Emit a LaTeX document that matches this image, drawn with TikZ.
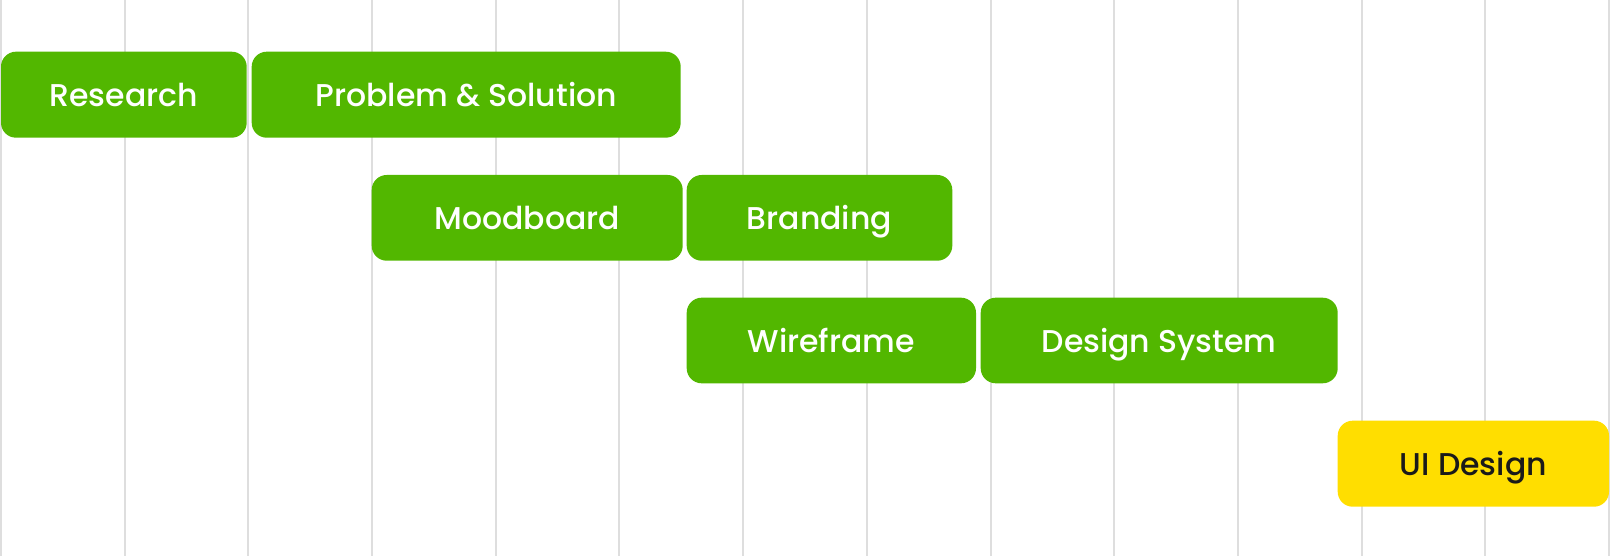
\documentclass[tikz,border=0pt]{standalone}
\usepackage{fontspec}
\setmainfont{Poppins}[UprightFont=* Medium]
\definecolor{tgreen}{HTML}{52B700}
\definecolor{tyellow}{HTML}{FFDE00}
\definecolor{tgrid}{HTML}{DEDEDE}
\definecolor{tdark}{HTML}{1A1A1A}
\begin{document}
\begin{tikzpicture}[x=1pt,y=-1pt,
  task/.style={draw=none,fill=tgreen,text=white,rounded corners=15pt,inner sep=0pt},
  hl/.style={task,fill=tyellow,text=tdark},
  label/.style={inner sep=0pt,anchor=base,yshift=-12pt,font=\fontsize{31.5}{36}\selectfont},
  gridline/.style={draw=tgrid,line width=2pt}]
\useasboundingbox (0,0) rectangle (1610,556);
\foreach \k in {0,...,13}{
  \draw[gridline] ({1+123.69*\k},0) -- ({1+123.69*\k},556);
}
\newcommand{\taskbox}[6]{%
  \node[#1,minimum width={#4-#2},minimum height={#5-#3}] (#6) at ({(#2+#4)/2},{(#3+#5)/2}) {};}
\taskbox{task}{1}{51.7}{246.7}{137.7}{research}
\taskbox{task}{251.7}{51.7}{680.7}{137.7}{problem}
\taskbox{task}{371.7}{175}{682.7}{260.7}{mood}
\taskbox{task}{686.7}{175}{952.3}{260.7}{brand}
\taskbox{task}{686.7}{297.7}{976}{383.3}{wire}
\taskbox{task}{980.7}{297.7}{1337.7}{383.3}{dsys}
\taskbox{hl}{1337.7}{420.7}{1609}{506.7}{ui}
\foreach \n/\t in {research/Research,problem/Problem \& Solution,mood/Moodboard,brand/Branding,wire/Wireframe,dsys/Design System}{
  \node[label,text=white] (\n-t) at (\n.center) {\t};
}
\node[label,text=tdark] (ui-t) at (ui.center) {UI Design};
\end{tikzpicture}
\end{document}
